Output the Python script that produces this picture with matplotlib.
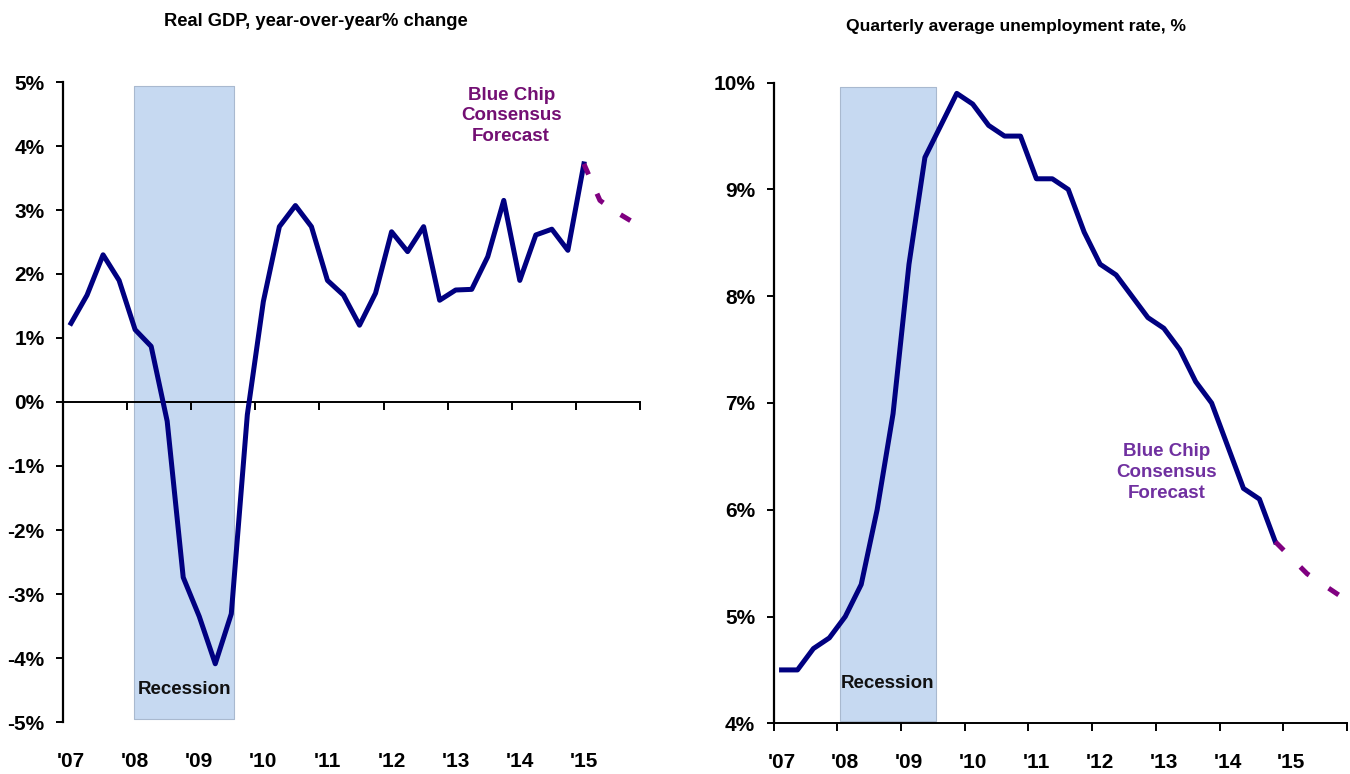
import matplotlib
matplotlib.use('Agg')
import matplotlib.pyplot as plt
import matplotlib.transforms as mtransforms
from matplotlib import font_manager

# ---------------- data ----------------
year_labels = ["'07", "'08", "'09", "'10", "'11", "'12", "'13", "'14", "'15"]

# Real GDP, y/y % change, quarterly 2007Q1 .. 2015Q1
gdp_actual = [1.23, 1.67, 2.30, 1.90,
              1.13, 0.87, -0.30, -2.74,
              -3.35, -4.09, -3.31, -0.20,
              1.57, 2.74, 3.07, 2.74,
              1.90, 1.67, 1.20, 1.70,
              2.66, 2.35, 2.74, 1.59,
              1.75, 1.76, 2.27, 3.15,
              1.90, 2.61, 2.70, 2.37,
              3.72]
# Blue Chip forecast 2015Q1 .. 2015Q4
gdp_forecast = [3.72, 3.15, 2.97, 2.82]

# Unemployment rate, quarterly 2007Q1 .. 2014Q4
unemp_actual = [4.5, 4.5, 4.7, 4.8,
                5.0, 5.3, 6.0, 6.9,
                8.3, 9.3, 9.6, 9.9,
                9.8, 9.6, 9.5, 9.5,
                9.1, 9.1, 9.0, 8.6,
                8.3, 8.2, 8.0, 7.8,
                7.7, 7.5, 7.2, 7.0,
                6.6, 6.2, 6.1, 5.7]
# Blue Chip forecast 2014Q4 .. 2015Q4
unemp_forecast = [5.7, 5.55, 5.4, 5.3, 5.2]

gdp_yticks = [-5, -4, -3, -2, -1, 0, 1, 2, 3, 4, 5]
unemp_yticks = [4, 5, 6, 7, 8, 9, 10]

# recession shading (years since 2007 on x)
gdp_recession = (1.10, 2.675, -4.95, 4.93)
unemp_recession = (1.04, 2.55, 4.02, 9.96)

# ---------------- style ----------------
avail = {f.name for f in font_manager.fontManager.ttflist}
narrow = 'Liberation Sans Narrow' if 'Liberation Sans Narrow' in avail else 'Liberation Sans'
tick_size = 17 if narrow == 'Liberation Sans Narrow' else 15
plt.rcParams['font.family'] = ['Liberation Sans', 'DejaVu Sans']

LINE = '#000080'
FC = '#800080'
REC_FC = '#c6d9f1'
REC_EC = '#a9b9cf'

fig = plt.figure(figsize=(13.5, 7.74), dpi=100)
ax1 = fig.add_axes([63/1350, 1-722/774, 577/1350, 640/774])
ax2 = fig.add_axes([773.6/1350, 1-723.3/774, 573.4/1350, 640.6/774])


def qx(n, start=0):
    return [(start + i + 0.5) / 4 for i in range(n)]


def style_axis(ax, yticks, ylim):
    ax.set_xlim(0, 9)
    ax.set_ylim(*ylim)
    for s in ['top', 'right']:
        ax.spines[s].set_visible(False)
    ax.spines['left'].set_linewidth(1.6)
    ax.spines['bottom'].set_linewidth(1.4)
    ax.set_xticks(range(10))
    ax.set_xticklabels([])
    ax.set_yticks(yticks)
    ax.set_yticklabels([f'{v}%' for v in yticks], fontfamily=narrow,
                       fontweight='bold', fontsize=tick_size)
    ax.tick_params(axis='y', direction='out', length=5.3, width=1.4, pad=8.0)
    ax.tick_params(axis='x', direction='out', length=6, width=1.4)
    trans = mtransforms.blended_transform_factory(ax.transData, ax.transAxes)
    for i, lab in enumerate(year_labels):
        ax.text(i + 0.125, -0.061, lab, transform=trans, ha='center', va='center',
                fontfamily=narrow, fontweight='bold', fontsize=tick_size)


# ---------------- left: GDP ----------------
style_axis(ax1, gdp_yticks, (-5, 5))
ax1.spines['bottom'].set_position(('data', 0))
x0, x1, yb, yt = gdp_recession
ax1.fill_between([x0, x1], yb, yt, facecolor=REC_FC, edgecolor=REC_EC, lw=0.8, zorder=0)
ax1.text((x0 + x1) / 2, -4.49, 'Recession', ha='center', va='center',
         fontsize=13.5, fontweight='bold', color='#111111')
ax1.plot(qx(len(gdp_actual)), gdp_actual, color=LINE, lw=3.6, zorder=3)
ax1.plot(qx(len(gdp_forecast), start=32), gdp_forecast, color=FC, lw=3.6,
         linestyle=(0, (2.3, 4.2)), dash_capstyle='butt', zorder=3)
ax1.text(6.99, 4.47, 'Blue Chip\nConsensus\nForecast', ha='center', va='center',
         fontsize=13.5, fontweight='bold', color='#730f73', linespacing=1.3)
fig.text(315.5/1350, 1-21/774, 'Real GDP, year-over-year% change', ha='center', va='center',
         fontsize=13.2, fontweight='bold')

# ---------------- right: unemployment ----------------
style_axis(ax2, unemp_yticks, (4, 10))
x0, x1, yb, yt = unemp_recession
ax2.fill_between([x0, x1], yb, yt, facecolor=REC_FC, edgecolor=REC_EC, lw=0.8, zorder=0)
ax2.text((x0 + x1) / 2, 4.37, 'Recession', ha='center', va='center',
         fontsize=13.5, fontweight='bold', color='#111111')
ax2.plot(qx(len(unemp_actual)), unemp_actual, color=LINE, lw=3.6, zorder=3)
ax2.plot(qx(len(unemp_forecast), start=31), unemp_forecast, color=FC, lw=3.6,
         linestyle=(0, (2.4, 4.7)), dash_capstyle='butt', zorder=3)
ax2.text(6.17, 6.35, 'Blue Chip\nConsensus\nForecast', ha='center', va='center',
         fontsize=13.5, fontweight='bold', color='#7030a0', linespacing=1.3)
fig.text(1016.5/1350, 1-27/774, 'Quarterly average unemployment rate, %', ha='center',
         va='center', fontsize=12.6, fontweight='bold')

fig.savefig('out.png', dpi=100)
